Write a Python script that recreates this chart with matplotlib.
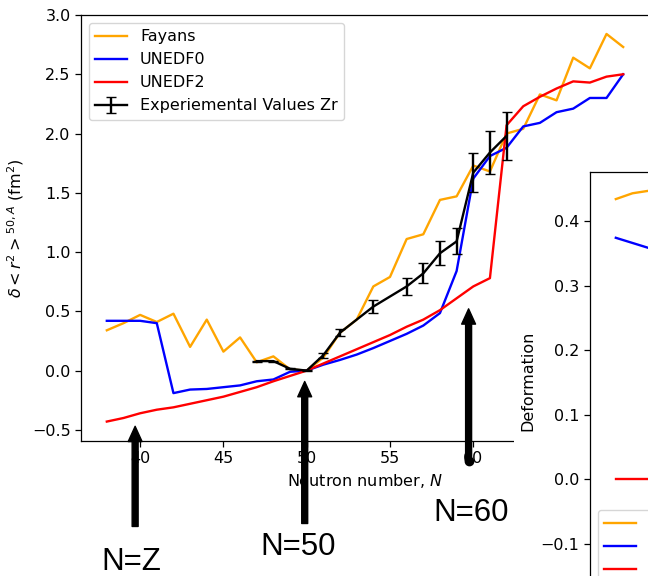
import matplotlib
matplotlib.use("Agg")
import matplotlib.pyplot as plt
from matplotlib.patches import Rectangle

# Neutron numbers and charge-radius differences
neutrons = list(range(38, 70))
fayans = [0.34, 0.40, 0.47, 0.41, 0.48, 0.20, 0.43, 0.16, 0.28, 0.07, 0.12, 0.01,
          0.00, 0.11, 0.32, 0.43, 0.71, 0.79, 1.11, 1.15, 1.44, 1.47, 1.73, 1.68,
          2.00, 2.04, 2.33, 2.28, 2.64, 2.55, 2.84, 2.73]
unedf0 = [0.42, 0.42, 0.42, 0.40, -0.19, -0.16, -0.155, -0.14, -0.125, -0.09, -0.075, -0.01,
          0.00, 0.05, 0.09, 0.135, 0.19, 0.25, 0.31, 0.38, 0.485, 0.84, 1.62, 1.81,
          1.88, 2.06, 2.09, 2.18, 2.21, 2.30, 2.30, 2.50]
unedf2 = [-0.43, -0.40, -0.36, -0.33, -0.31, -0.28, -0.25, -0.22, -0.18, -0.14, -0.09, -0.045,
          0.00, 0.06, 0.12, 0.18, 0.24, 0.30, 0.37, 0.43, 0.51, 0.61, 0.71, 0.78,
          2.07, 2.23, 2.31, 2.38, 2.44, 2.43, 2.48, 2.50]

# Experimental values for Zr
exp_n = [47, 48, 49, 50, 51, 52, 54, 56, 57, 58, 59, 60, 61, 62]
exp_val = [0.08, 0.08, 0.015, 0.0, 0.13, 0.32, 0.54, 0.71, 0.82, 0.99, 1.09, 1.67, 1.84, 1.98]
exp_err = [0.005, 0.005, 0.005, 0.005, 0.02, 0.03, 0.053, 0.073, 0.084, 0.10, 0.11, 0.166, 0.18, 0.20]

# Deformation plot (only the first points are visible)
def_n = [38, 39, 40]
def_fayans = [0.434, 0.443, 0.447]
def_unedf0 = [0.374, 0.366, 0.358]
def_unedf2 = [0.0, 0.0, 0.0]

# Arrow annotations
marks = ["N=Z", "N=50", "N=60"]
mark_n = [39.7, 49.88, 59.72]
mark_tip = [-0.47, -0.092, 0.521]
mark_tail = [-1.315, -1.29, -0.766]
label_n = [39.45, 49.5, 59.9]
label_y = [-1.68, -1.555, -1.265]

plt.rcParams["font.size"] = 11.5
plt.rcParams["axes.linewidth"] = 0.9
for a in ("xtick", "ytick"):
    plt.rcParams[a + ".major.size"] = 4
    plt.rcParams[a + ".major.width"] = 0.9

W, H = 648, 576
fig = plt.figure(figsize=(W / 100, H / 100), dpi=100)

ax = fig.add_axes([81 / W, 1 - 441 / H, 568 / W, 426 / H])
ax.plot(neutrons, fayans, color="orange", lw=1.7, label="Fayans")
ax.plot(neutrons, unedf0, color="blue", lw=1.7, label="UNEDF0")
ax.plot(neutrons, unedf2, color="red", lw=1.7, label="UNEDF2")
ax.errorbar(exp_n, exp_val, yerr=exp_err, color="black", lw=1.7, capsize=3.5,
            label="Experiemental Values Zr")
ax.set_xlim(36.45, 70.55)
ax.set_ylim(-0.594, 3.0)
ax.set_xticks([40, 45, 50, 55, 60])
ax.set_xlabel("Neutron number, $N$")
ax.set_ylabel(r"$\delta < r^2 >^{50,A}$ (fm$^2$)")
ax.legend(loc="upper left")

# white area where the second figure sits
ax.add_patch(Rectangle((514 / W, 0), 1, (H - 160) / H, transform=fig.transFigure,
                       facecolor="white", edgecolor="none", zorder=4, clip_on=False))

for lab, n, tip, tail, ln, ly in zip(marks, mark_n, mark_tip, mark_tail, label_n, label_y):
    ax.annotate("", xy=(n, tip), xytext=(n, tail), annotation_clip=False,
                arrowprops=dict(facecolor="black", edgecolor="black", width=4.3,
                                headwidth=10, headlength=11, shrink=0), zorder=5)
    ax.text(ln, ly, lab, fontsize=22.5, family="Liberation Sans", ha="center",
            va="baseline", clip_on=False, zorder=6)
ax.plot(mark_n[2], mark_tail[2], "o", color="black", ms=6, clip_on=False, zorder=6)

# second plot: deformation
ax2 = fig.add_axes([590 / W, 1 - 590 / H, 568 / W, 418 / H])
ax2.plot(def_n, def_fayans, color="orange", lw=1.7, label="Fayans")
ax2.plot(def_n, def_unedf0, color="blue", lw=1.7, label="UNEDF0")
ax2.plot(def_n, def_unedf2, color="red", lw=1.7, label="UNEDF2")
ax2.set_xlim(36.45, 70.55)
ax2.set_ylim(-0.172, 0.476)
ax2.set_yticks([-0.1, 0.0, 0.1, 0.2, 0.3, 0.4])
ax2.set_xticks([])
ax2.set_ylabel("Deformation")
ax2.legend(loc="upper left", bbox_to_anchor=(598 / W, 1 - 510 / H),
           bbox_transform=fig.transFigure, borderaxespad=0)

fig.savefig("out.png", dpi=100)
